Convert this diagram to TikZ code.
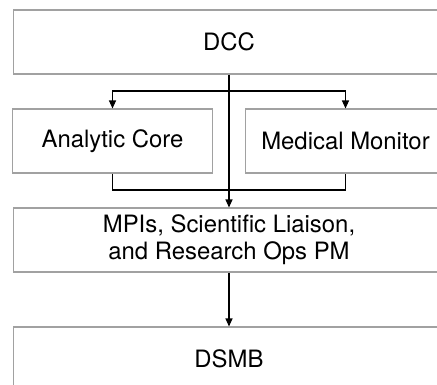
\documentclass[tikz,border=0pt]{standalone}
\usepackage{fontspec}
\setmainfont{TeX Gyre Heros}
\usepackage{tikz}
\usetikzlibrary{arrows.meta}
\tikzset{box/.style={draw=black!37,line width=0.6pt,fill=white,inner sep=0pt,align=center,
                     minimum height=1.28cm,font=\fontsize{13.6pt}{15.4pt}\selectfont},
         wide box/.style={box,minimum width=8.64cm},
         half box/.style={box,minimum width=3.99cm},
         link/.style={line width=0.6pt,draw=black},
         arr/.style={link,-{Triangle[length=0.16cm,width=0.14cm]}}}

\begin{document}
\begin{tikzpicture}[x=0.02cm,y=-0.02cm]
	\clip (0,0) rectangle (437,385);
	\useasboundingbox (0,0) rectangle (437,385);
	% boxes
	\node[wide box] (dcc) at (229,42) {DCC};
	\node[half box] (core) at (112.5,141) {Analytic Core};
	\node[half box] (monitor) at (345.5,141) {Medical Monitor};
	\node[wide box] (mpis) at (229,240) {MPIs, Scientific Liaison,\\and Research Ops PM};
	\node[wide box] (dsmb) at (229,359) {DSMB};
	\coordinate (split) at (229,91);
	\coordinate (join) at (229,190);
	% connectors
	\draw[arr] (dcc.south) -- (mpis.north);
	\draw[arr] (split) -| (core.north);
	\draw[arr] (split) -| (monitor.north);
	\draw[link] (core.south) |- (join) -| (monitor.south);
	\draw[arr] (mpis.south) -- (dsmb.north);
\end{tikzpicture}
\end{document}
